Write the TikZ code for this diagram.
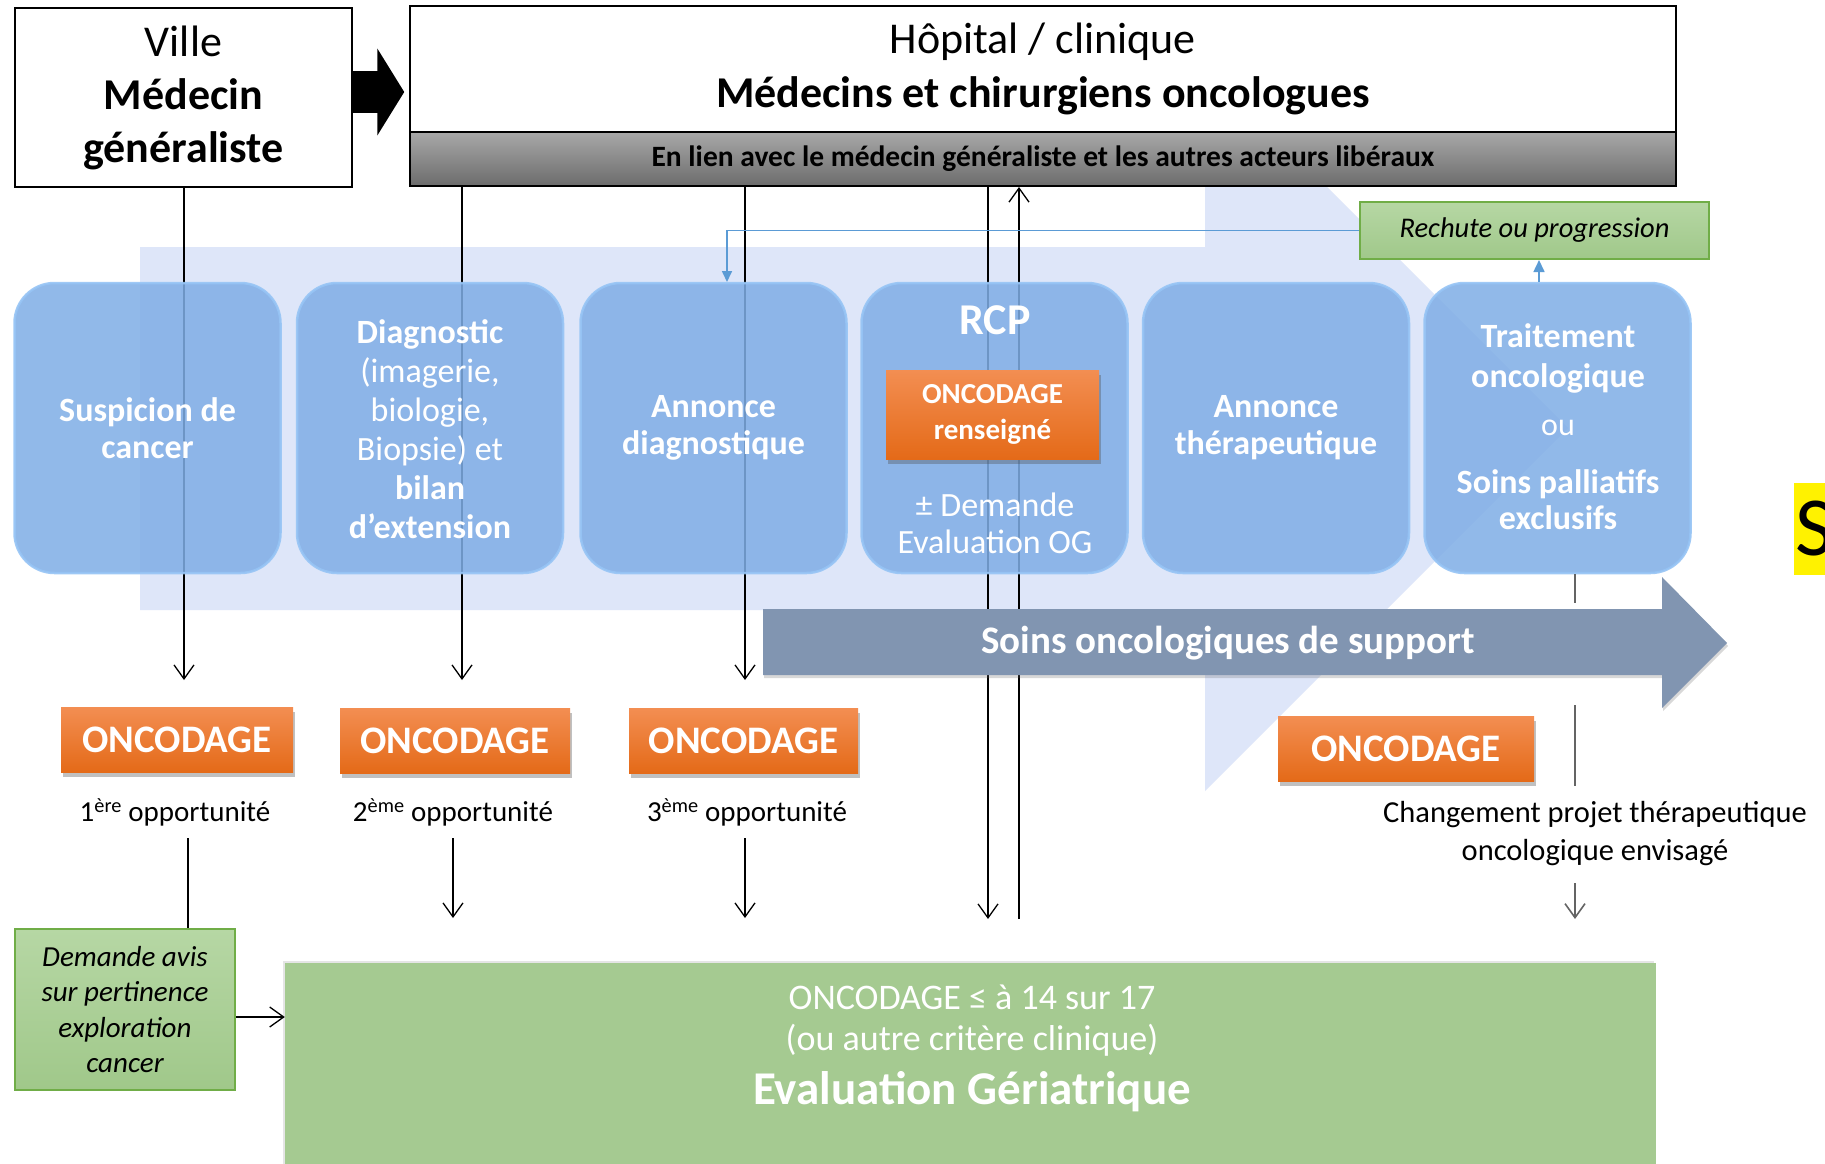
\documentclass[tikz,border=0pt]{standalone}
\usepackage{fontspec}
\setmainfont{Carlito}
\usetikzlibrary{arrows.meta,shadows,calc}
\newcommand\fs[2]{\fontsize{#1}{#2}\selectfont}
\definecolor{lightbg}{RGB}{222,230,249}
\definecolor{boxblue}{RGB}{128,174,230}
\definecolor{boxedge}{RGB}{150,196,245}
\definecolor{soinsc}{RGB}{129,149,177}
\definecolor{orT}{RGB}{243,142,82}
\definecolor{orB}{RGB}{228,106,24}
\definecolor{greenbig}{RGB}{165,202,145}
\definecolor{greenT}{RGB}{182,215,164}
\definecolor{greenB}{RGB}{160,200,138}
\definecolor{greenedge}{RGB}{112,173,71}
\definecolor{linkblue}{RGB}{91,155,213}
\definecolor{barT}{RGB}{168,168,168}
\definecolor{barB}{RGB}{108,108,108}
\definecolor{grayline}{RGB}{100,100,100}
\tikzset{
  arr/.style={line width=1.3pt, -{Straight Barb[length=14pt,width=20pt,line width=1.3pt]}},
  garr/.style={draw=grayline, line width=2pt, -{Straight Barb[length=14pt,width=20pt,line width=1.6pt]}},
  bbox/.style={rounded corners=40pt, fill=boxblue, fill opacity=0.86, draw=boxedge, draw opacity=0.9,
    line width=2.5pt, minimum width=266pt, minimum height=290pt, text opacity=1, text=white, align=center},
  btext/.style={text=white, align=center},
  onc/.style={top color=orT, bottom color=orB, text=white, inner sep=0,
    drop shadow={shadow xshift=2pt, shadow yshift=-5pt, opacity=0.35, fill=black!70}},
  gbox/.style={draw=greenedge, line width=2pt, top color=greenT, bottom color=greenB, inner sep=0},
  lbl/.style={font=\fs{29pt}{34pt}},
}
\begin{document}
\begin{tikzpicture}[x=1pt,y=-1pt]
\useasboundingbox (0,0) rectangle (1825,1163);
\fill[white] (0,0) rectangle (1825,1163);

% light background arrow
\fill[lightbg] (140,247) -- (1205,247) -- (1205,65) -- (1568,428) -- (1205,791) -- (1205,610) -- (140,610) -- cycle;

% top boxes
\node[draw, line width=1.5pt, fill=white, minimum width=337pt, minimum height=179pt, inner sep=0,
  align=center, font=\fs{44pt}{53pt}] (ville) at (183.5,97.5) {Ville\\\textbf{Médecin}\\\textbf{généraliste}};
\node[draw, line width=1.5pt, fill=white, minimum width=1266pt, minimum height=126pt, inner sep=0,
  align=center, font=\fs{44pt}{54pt}] (hop) at (1043,69) {Hôpital / clinique\\\textbf{Médecins et chirurgiens oncologues}};
\node[draw, line width=2pt, top color=barT, bottom color=barB, minimum width=1266pt, minimum height=54pt,
  inner sep=0, font=\bfseries\fs{29.5pt}{30pt}] (bar) at (1043,159) {En lien avec le médecin généraliste et les autres acteurs libéraux};
\draw[line width=42pt, -{Triangle[length=27pt,width=86pt]}] ([yshift=5.5pt]ville.east) -- ([yshift=5.5pt,xshift=-5pt]ville.east -| hop.west);

% vertical lines
\coordinate (a1) at (184,680);
\coordinate (a2) at (462,680);
\coordinate (a3) at (745,680);
\coordinate (ra) at (988,919);
\coordinate (rb) at (1019,919);
\coordinate (tm) at (1575,603);
\coordinate (tn) at (1575,705);
\coordinate (tl) at (1575,919);
\draw[arr] (ville.south -| a1) -- (a1);
\draw[arr] (bar.south -| a2) -- (a2);
\draw[arr] (bar.south -| a3) -- (a3);
\draw[arr] (bar.south -| ra) -- (ra);
\draw[arr] (rb) -- (bar.south -| rb);

% blue process boxes
\node[bbox, font=\bfseries\fs{34pt}{37pt}] (b1) at (147.5,428) {Suspicion de\\cancer};
\node[bbox, font=\fs{34pt}{39pt}] (b2) at (430,428) {};
\node[btext, font=\fs{34pt}{39pt}] (b2t) at (430,429) {\textbf{Diagnostic}\\(imagerie,\\biologie,\\Biopsie) et\\\textbf{bilan}\\\textbf{d’extension}};
\node[bbox, font=\bfseries\fs{34pt}{37pt}] (b3) at (713.5,428) {Annonce\\diagnostique};
\node[bbox] (b4) at (994.5,428) {};
\node[btext, font=\bfseries\fs{44pt}{46pt}] (rcp) at (995,320) {RCP};
\node[onc, font=\bfseries\fs{29pt}{36pt}, minimum width=213pt, minimum height=89pt, align=center] (rcpo) at (992.5,414.5) {ONCODAGE\\renseigné};
\node[btext, font=\fs{34pt}{37pt}] (dog) at (995,523.5) {± Demande\\Evaluation OG};
\node[bbox, font=\bfseries\fs{34pt}{37pt}] (b5) at (1276,428) {Annonce\\thérapeutique};
\node[bbox] (b6) at (1557.5,428) {};
\node[btext, font=\bfseries\fs{34pt}{40pt}] (b6a) at (1558,358) {Traitement\\oncologique};
\node[btext, font=\fs{32pt}{36pt}] (b6b) at (1558,428) {ou};
\node[btext, font=\bfseries\fs{34pt}{36pt}] (b6c) at (1558,500) {Soins palliatifs\\exclusifs};

% traitement line (under support arrow)
\draw[draw=grayline, line width=2pt] (b6.south -| tm) -- (tm);
\draw[garr] (tn) -- (tl);

% rechute
\node[gbox, minimum width=349pt, minimum height=57pt, font=\itshape\fs{28.5pt}{30pt}] (rech) at (1534.5,230.5) {Rechute ou progression};
\coordinate (bt) at (727,282);
\coordinate (tu) at (1539,282);
\draw[linkblue, line width=1.6pt, -{Triangle[length=11pt,width=10pt]}] (rech.west) -| (bt);
\draw[linkblue, line width=1.6pt, -{Triangle[length=12pt,width=11pt]}] (tu) -- (tu |- rech.south);

% support arrow
\fill[soinsc, drop shadow={shadow xshift=1pt, shadow yshift=-3pt, opacity=0.25, fill=black!60}]
  (763,609) -- (1662,609) -- (1662,577) -- (1727,643) -- (1662,708) -- (1662,675) -- (763,675) -- cycle;
\node[text=white, font=\bfseries\fs{39pt}{40pt}] (soins) at (1228,643) {Soins oncologiques de support};

% ONCODAGE boxes
\node[onc, font=\bfseries\fs{39pt}{40pt}, minimum width=232pt, minimum height=65pt] (o1) at (177,739.5) {ONCODAGE};
\node[onc, font=\bfseries\fs{39pt}{40pt}, minimum width=230pt, minimum height=65pt] (o2) at (455,740.5) {ONCODAGE};
\node[onc, font=\bfseries\fs{39pt}{40pt}, minimum width=229pt, minimum height=65pt] (o3) at (743.5,740.5) {ONCODAGE};
\node[onc, font=\bfseries\fs{39pt}{40pt}, minimum width=256pt, minimum height=65pt] (o4) at (1406,748.5) {ONCODAGE};

\node[lbl] (p1) at (175,812) {1\textsuperscript{ère} opportunité};
\node[lbl] (p2) at (453,812) {2\textsuperscript{ème} opportunité};
\node[lbl] (p3) at (747,812) {3\textsuperscript{ème} opportunité};

% green boxes
\node[gbox, minimum width=220pt, minimum height=161pt, align=center, font=\itshape\fs{29pt}{35.5pt}] (dem) at (125,1009.5) {Demande avis\\sur pertinence\\exploration\\cancer};
\node[fill=greenbig, minimum width=1371pt, minimum height=230pt, inner sep=0, anchor=north,
  drop shadow={shadow xshift=-2pt, shadow yshift=2pt, opacity=0.2, fill=black!50}] (eg) at (970.5,963) {};
\node[text=white, font=\fs{36pt}{40pt}] (eg1) at (972,997) {ONCODAGE ≤ à 14 sur 17};
\node[text=white, font=\fs{36pt}{40pt}] (eg2) at (972,1040) {(ou autre critère clinique)};
\node[text=white, font=\bfseries\fs{47pt}{50pt}] (eg3) at (972,1092) {Evaluation Gériatrique};

% lower connectors
\coordinate (l1) at (188,838);
\coordinate (l2) at (453,838);
\coordinate (l2e) at (453,918);
\coordinate (l3) at (745,838);
\coordinate (l3e) at (745,918);
\draw[line width=1.3pt] (l1) -- (l1 |- dem.north);
\draw[arr] (l2) -- (l2e);
\draw[arr] (l3) -- (l3e);
\draw[arr] ([yshift=-7.5pt]dem.east) -- ([yshift=-7.5pt]dem.east -| eg.west);

% change text
\node[fill=white, inner sep=4pt, minimum height=97pt, align=center, font=\fs{30.5pt}{38pt}] (chg) at (1595,834) {Changement projet thérapeutique\\oncologique envisagé};

% cut yellow S at the right edge
\node[fill=yellow, anchor=west, inner xsep=1pt, inner ysep=0, minimum height=92pt, font=\fs{84pt}{84pt}] (ys) at (1794,529) {S};
\end{tikzpicture}
\end{document}
